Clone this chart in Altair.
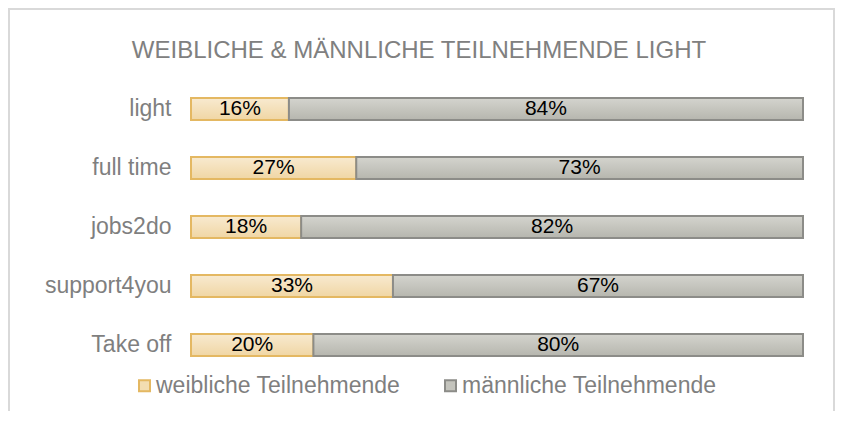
import altair as alt
import pandas as pd

programs = ["light", "full time", "jobs2do", "support4you", "Take off"]
female_pct = [16, 27, 18, 33, 20]
male_pct = [84, 73, 82, 67, 80]
groups = ["weibliche Teilnehmende", "männliche Teilnehmende"]
title_text = "WEIBLICHE & MÄNNLICHE TEILNEHMENDE LIGHT"

rows = []
for p, f, m in zip(programs, female_pct, male_pct):
    rows.append({"program": p, "gruppe": groups[0], "ord": 0, "pct": f, "label": f"{f}%"})
    rows.append({"program": p, "gruppe": groups[1], "ord": 1, "pct": m, "label": f"{m}%"})
df = pd.DataFrame(rows)

fill_flat = ["#f3ddb2", "#c4c4bd"]
stroke_cols = ["#e4b862", "#8c8c88"]
grad_f = {"gradient": "linear", "x1": 0, "y1": 0, "x2": 0, "y2": 1,
          "stops": [{"offset": 0, "color": "#f8ead0"}, {"offset": 1, "color": "#f0d6a4"}]}
grad_m = {"gradient": "linear", "x1": 0, "y1": 0, "x2": 0, "y2": 1,
          "stops": [{"offset": 0, "color": "#d4d4ce"}, {"offset": 1, "color": "#b6b6ae"}]}

y_enc = alt.Y("program:N", sort=programs, title=None,
              scale=alt.Scale(paddingInner=0.627, paddingOuter=0.305),
              axis=alt.Axis(domain=False, ticks=False, labelPadding=20,
                            labelFontSize=23, labelColor="#7f7f7f", labelFont="Liberation Sans"))
x_scale = alt.Scale(domain=[0, 100], nice=False, zero=True)

legend = alt.Legend(title=None, orient="none", legendX=-58, legendY=294, direction="horizontal",
                    symbolType="square", symbolSize=121, symbolStrokeWidth=2,
                    labelFontSize=23, labelColor="#7f7f7f", labelFont="Liberation Sans",
                    labelLimit=0, labelOffset=0, columnPadding=38, padding=0)

base = alt.Chart(df).transform_stack(
    stack="pct", groupby=["program"], as_=["x0", "x1"],
    sort=[alt.SortField("ord", order="ascending")]
).transform_calculate(mid="(datum.x0 + datum.x1) / 2")

bars_a = base.mark_bar(strokeWidth=2).encode(
    y=y_enc,
    x=alt.X("x0:Q", scale=x_scale, axis=None),
    x2="x1:Q",
    fill=alt.Fill("gruppe:N", scale=alt.Scale(domain=groups, range=fill_flat), legend=legend),
    stroke=alt.Stroke("gruppe:N", scale=alt.Scale(domain=groups, range=stroke_cols), legend=legend),
)

is_f = alt.datum.gruppe == groups[0]
bars_b = base.mark_bar(strokeWidth=2).encode(
    y=y_enc,
    x=alt.X("x0:Q", scale=x_scale, axis=None),
    x2="x1:Q",
    fill=alt.condition(is_f, alt.value(grad_f), alt.value(grad_m)),
    stroke=alt.condition(is_f, alt.value(stroke_cols[0]), alt.value(stroke_cols[1])),
)

labels = base.mark_text(fontSize=21, color="#000000", font="Liberation Sans", baseline="middle").encode(
    y=y_enc,
    x=alt.X("mid:Q", scale=x_scale, axis=None),
    text="label:N",
)

one = alt.Data(values=[{"a": 1}])
frame = alt.Chart(one).mark_rect(fill="transparent", stroke="#d9d9d9", strokeWidth=2).encode(
    x=alt.value(-182), x2=alt.value(643), y=alt.value(-71), y2=alt.value(420)
)
title = alt.Chart(one).mark_text(fontSize=24, color="#808080", font="Liberation Sans",
                                  align="center", baseline="alphabetic").encode(
    x=alt.value(228), y=alt.value(-22), text=alt.value(title_text)
)

chart = alt.layer(frame, title, bars_a, bars_b, labels).properties(
    width=612, height=294,
    padding={"left": 183, "top": 72, "right": 32, "bottom": 37},
    autosize=alt.AutoSizeParams(type="none"),
    background="white",
).configure(font="Liberation Sans", view=alt.ViewConfig(stroke=None, strokeWidth=0))

chart.save("out.html", embed_options={"renderer": "svg", "actions": False})
